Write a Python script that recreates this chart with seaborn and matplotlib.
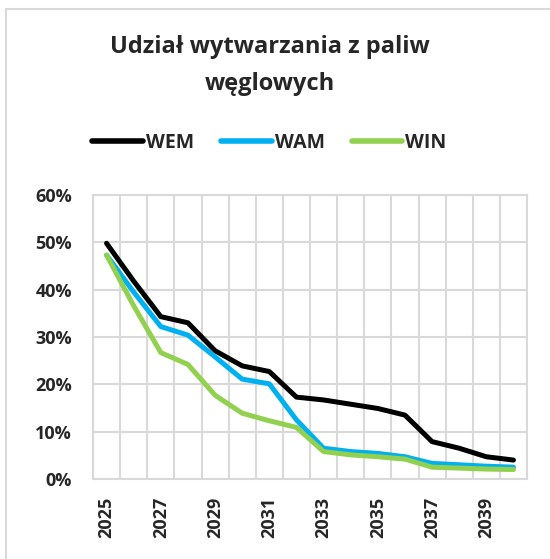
import numpy as np
import pandas as pd
import matplotlib
matplotlib.use("Agg")
import matplotlib.pyplot as plt
import matplotlib.ticker as mticker
from matplotlib.patches import Rectangle
import seaborn as sns

# ── Data ─────────────────────────────────────────────────────────────────────
years = list(range(2025, 2041))
wem = [49.8, 41.8, 34.3, 33.0, 27.1, 23.9, 22.7, 17.3, 16.7, 15.8, 14.9, 13.5, 7.9, 6.5, 4.7, 4.0]
wam = [47.3, 39.5, 32.2, 30.4, 25.8, 21.1, 20.1, 12.5, 6.5, 5.8, 5.4, 4.7, 3.3, 3.0, 2.7, 2.5]
win = [47.3, 36.6, 26.7, 24.2, 17.7, 13.9, 12.3, 10.9, 5.8, 5.1, 4.7, 4.2, 2.5, 2.3, 2.1, 2.0]
series = ["WEM", "WAM", "WIN"]
colors = {"WEM": "#000000", "WAM": "#00B0F0", "WIN": "#92D050"}

df = pd.DataFrame({"year": years, "WEM": wem, "WAM": wam, "WIN": win})
df["pos"] = np.arange(len(years))
long = df.melt(id_vars=["year", "pos"], value_vars=series,
               var_name="scenario", value_name="share")

# ── Style ────────────────────────────────────────────────────────────────────
sns.set_style("white")
plt.rcParams["font.family"] = ["Open Sans", "DejaVu Sans"]

fig = plt.figure(figsize=(5.5, 5.59), dpi=100)
fig.patches.append(Rectangle((6 / 550, -0.1), 1.2, 1 - 9 / 559 + 0.1,
                             transform=fig.transFigure, fill=False,
                             edgecolor="#D9D9D9", linewidth=1.5))
ax = fig.add_axes([93 / 550, 1 - 479 / 559, (527 - 93) / 550, (479 - 195) / 559])

sns.lineplot(data=long, x="pos", y="share", hue="scenario", hue_order=series,
             palette=colors, linewidth=3.6, ax=ax, legend=False)

ax.set_xlim(-0.5, len(years) - 0.5)
ax.set_ylim(0, 60)
ax.yaxis.set_major_locator(mticker.MultipleLocator(10))
ax.yaxis.set_major_formatter(mticker.FuncFormatter(lambda v, _: f"{v:.0f}%"))
ax.set_xticks(df["pos"][::2])
ax.set_xticklabels([str(y) for y in years[::2]], rotation=90)
ax.xaxis.set_minor_locator(mticker.FixedLocator(np.arange(-0.5, len(years), 1)))
ax.grid(True, which="major", axis="y", color="#D9D9D9", linewidth=1.5)
ax.grid(True, which="minor", axis="x", color="#D9D9D9", linewidth=1.5)
ax.grid(False, which="major", axis="x")
ax.set_axisbelow(True)
for s in ax.spines.values():
    s.set_color("#D9D9D9")
    s.set_linewidth(1.5)
ax.tick_params(axis="both", which="both", length=0, labelsize=13)
ax.tick_params(axis="y", pad=15)
ax.tick_params(axis="x", pad=13)
for lbl in ax.get_xticklabels() + ax.get_yticklabels():
    lbl.set_fontweight("bold")
ax.set_xlabel("")
ax.set_ylabel("")

fig.text(0.49, 1 - 47 / 559, "Udział wytwarzania z paliw", ha="center", va="center",
         fontsize=17, fontweight="bold")
fig.text(0.49, 1 - 84 / 559, "węglowych", ha="center", va="center",
         fontsize=17, fontweight="bold")

handles = [plt.Line2D([], [], color=colors[s], linewidth=4, solid_capstyle="round")
           for s in series]
fig.legend(handles, series, loc="center", bbox_to_anchor=(0.49, 1 - 143 / 559),
           ncol=3, frameon=False, handlelength=2.6, handletextpad=0.15,
           columnspacing=1.4, prop={"weight": "bold", "size": 14})

fig.savefig("out.png", dpi=100)
